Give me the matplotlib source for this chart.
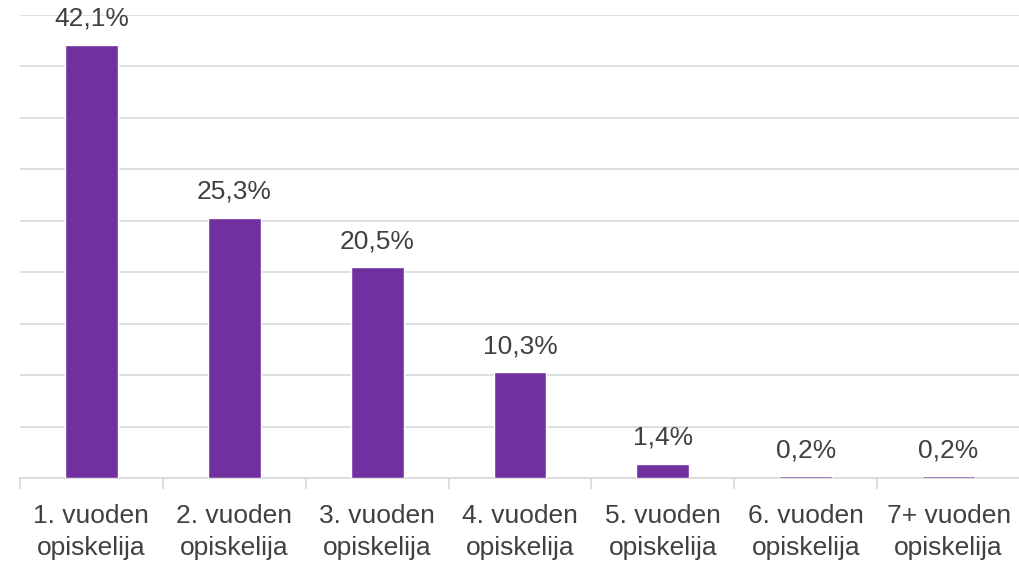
import matplotlib.pyplot as plt
import numpy as np

categories = ["1. vuoden\nopiskelija", "2. vuoden\nopiskelija", "3. vuoden\nopiskelija",
              "4. vuoden\nopiskelija", "5. vuoden\nopiskelija", "6. vuoden\nopiskelija",
              "7+ vuoden\nopiskelija"]
values = [42.1, 25.3, 20.5, 10.3, 1.4, 0.2, 0.2]
labels = ["42,1%", "25,3%", "20,5%", "10,3%", "1,4%", "0,2%", "0,2%"]

plt.rcParams['font.family'] = ['Liberation Sans', 'DejaVu Sans']

fig = plt.figure(figsize=(10.2, 5.63), dpi=100)
ax = fig.add_axes([20 / 1020, 1 - 478 / 563, 1000 / 1020, (478 - 15) / 563])

x = np.arange(len(values))
ax.bar(x, values, width=0.37, color="#7030A0", edgecolor="white", linewidth=1.0, zorder=3)
for xi, v, lab in zip(x, values, labels):
    ax.annotate(lab, (xi, v), xytext=(0, 10), textcoords="offset points",
                ha="center", va="bottom", fontsize=19, color="#404040")

ax.set_xlim(-0.5, len(values) - 0.5)
ax.set_ylim(0, 45)
ax.set_yticks(np.arange(0, 46, 5))
ax.yaxis.grid(True, color="#d9d9d9", linewidth=1.2, zorder=0)
ax.tick_params(axis="y", left=False, labelleft=False)

ax.set_xticks(x)
ax.set_xticklabels(categories, fontsize=19, color="#404040", linespacing=1.4)
ax.set_xticks(np.arange(-0.5, len(values), 1), minor=True)
ax.tick_params(axis="x", which="major", length=0, pad=19)
ax.tick_params(axis="x", which="minor", length=8, color="#d9d9d9", width=1.2)

for side in ["top", "right", "left"]:
    ax.spines[side].set_visible(False)
ax.spines["bottom"].set_color("#d9d9d9")
ax.spines["bottom"].set_linewidth(1.2)

fig.savefig("out.png", dpi=100)
